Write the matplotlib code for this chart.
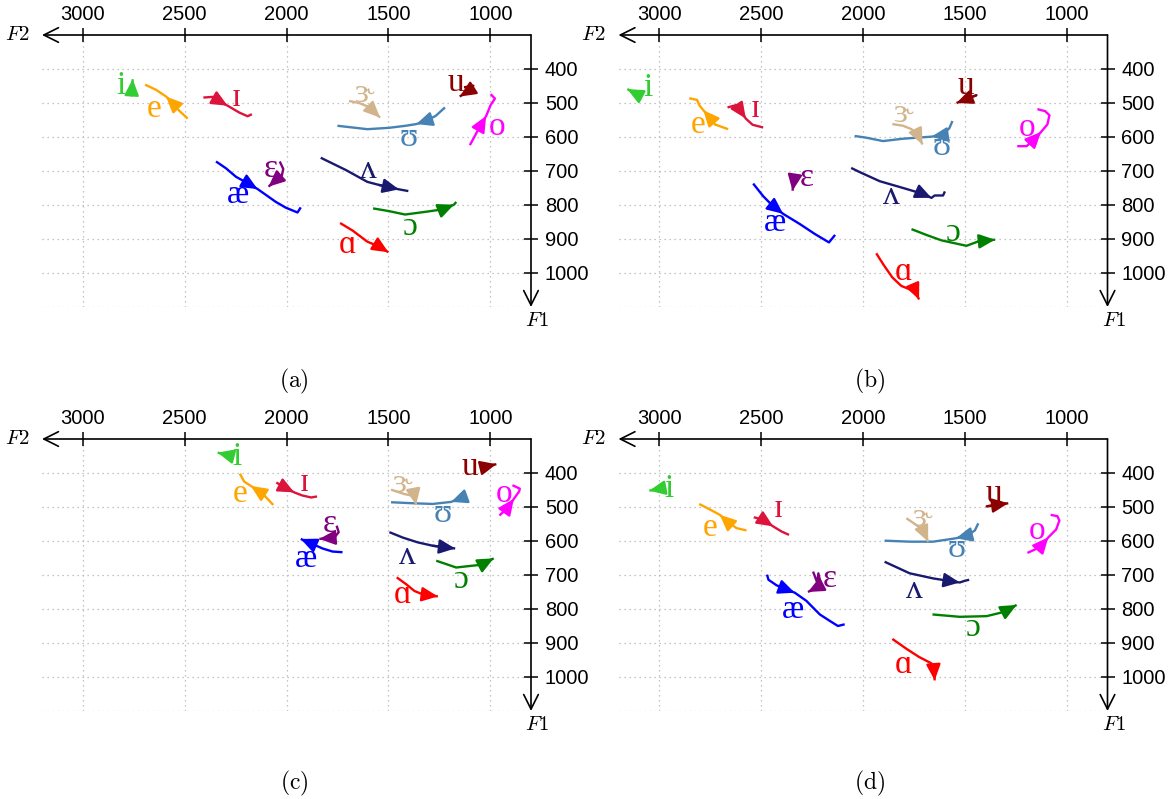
import matplotlib
matplotlib.use('Agg')
import matplotlib.pyplot as plt

plt.rcParams['font.family'] = 'Liberation Sans'
plt.rcParams['mathtext.fontset'] = 'cm'

# vowel order and colours
vowels = ['i', 'ɪ', 'e', 'ɛ', 'æ', 'ɑ', 'ɔ', 'o', 'ʊ', 'u', 'ʌ', 'ɝ']
colors = {'i': '#32cd32', 'ɪ': '#dc143c', 'e': '#ffa500', 'ɛ': '#800080',
          'æ': '#0000ff', 'ɑ': '#ff0000', 'ɔ': '#008000', 'o': '#ff00ff',
          'ʊ': '#4682b4', 'u': '#8b0000', 'ʌ': '#191970', 'ɝ': '#d2b48c'}

# formant tracks (F2 list, F1 list) in Hz, in time order
tracks_a = {
    'i': ([2760, 2755], [478, 430]),
    'e': ([2485, 2526, 2559, 2591, 2641, 2694], [546, 523, 500, 481, 461, 446]),
    'ɪ': ([2408, 2363, 2330, 2289, 2232, 2191, 2170], [484, 482, 494, 508, 528, 539, 533]),
    'æ': ([2346, 2297, 2248, 2191, 2142, 2052, 2003, 1946, 1930], [672, 692, 717, 736, 753, 791, 808, 822, 807]),
    'ɛ': ([2033, 2016, 2023, 2052, 2088], [672, 694, 714, 727, 746]),
    'ɝ': ([1693, 1644, 1603, 1575, 1541], [494, 500, 510, 523, 543]),
    'ʊ': ([1222, 1268, 1317, 1363, 1415, 1497, 1603, 1750], [513, 538, 553, 562, 567, 573, 577, 567]),
    'u': ([1129, 1083, 1105, 1150], [454, 449, 464, 481]),
    'o': ([1100, 1064, 1039, 1020, 998, 977, 998], [624, 584, 558, 538, 506, 487, 474]),
    'ʌ': ([1832, 1709, 1603, 1546, 1448, 1402], [661, 697, 732, 741, 754, 759]),
    'ɔ': ([1575, 1497, 1418, 1317, 1235, 1178, 1167], [810, 818, 828, 820, 813, 799, 791]),
    'ɑ': ([1737, 1676, 1603, 1546, 1500], [853, 875, 908, 922, 939]),
}
tracks_b = {
    'i': ([3092, 3119, 3157], [491, 471, 459]),
    'e': ([2662, 2727, 2752, 2784, 2804, 2814, 2853], [577, 563, 543, 521, 506, 491, 486]),
    'ɪ': ([2665, 2621, 2601, 2575, 2542, 2490], [513, 506, 523, 546, 564, 572]),
    'æ': ([2539, 2490, 2449, 2392, 2310, 2237, 2167, 2137], [737, 774, 799, 826, 856, 885, 910, 888]),
    'ɛ': ([2335, 2346], [715, 758]),
    'u': ([1443, 1541], [477, 500]),
    'ɝ': ([1856, 1803, 1762, 1730, 1708], [562, 567, 577, 595, 622]),
    'ʊ': ([1561, 1577, 1615, 1664, 1803, 1902, 1984, 2041], [553, 575, 595, 599, 605, 612, 602, 597]),
    'ʌ': ([2058, 2017, 1918, 1803, 1713, 1664, 1648, 1607, 1598], [691, 703, 730, 750, 766, 779, 772, 772, 760]),
    'ɔ': ([1762, 1689, 1615, 1492, 1434, 1352], [871, 888, 904, 920, 907, 902]),
    'ɑ': ([1935, 1899, 1856, 1812, 1771, 1738, 1725], [942, 976, 1013, 1038, 1048, 1060, 1078]),
    'o': ([1243, 1197, 1164, 1126, 1095, 1085, 1106, 1144], [627, 627, 609, 585, 563, 536, 524, 518]),
}
tracks_c = {
    'i': ([2265, 2338], [351, 340]),
    'e': ([2065, 2109, 2142, 2175, 2208, 2229], [494, 466, 451, 438, 425, 402]),
    'ɪ': ([2050, 2001, 1962, 1923, 1879, 1850], [428, 445, 457, 466, 472, 469]),
    'æ': ([1725, 1774, 1823, 1872, 1930], [633, 631, 622, 609, 594]),
    'ɛ': ([1754, 1744, 1761, 1798, 1839], [555, 574, 587, 592, 594]),
    'ɝ': ([1487, 1421, 1372, 1364], [449, 462, 468, 494]),
    'ʊ': ([1118, 1151, 1192, 1282, 1380, 1487], [466, 476, 485, 491, 489, 486]),
    'u': ([1039, 970], [384, 374]),
    'o': ([955, 919, 884, 858, 855, 891], [525, 505, 476, 454, 446, 436]),
    'ʌ': ([1495, 1429, 1356, 1282, 1172], [574, 590, 604, 614, 622]),
    'ɔ': ([1265, 1167, 1093, 1044, 983], [658, 678, 673, 670, 651]),
    'ɑ': ([1459, 1413, 1372, 1331, 1257], [707, 727, 747, 757, 763]),
}
tracks_d = {
    'i': ([2977, 3049], [444, 452]),
    'e': ([2572, 2621, 2662, 2703, 2743, 2804], [569, 562, 545, 523, 510, 491]),
    'ɪ': ([2536, 2490, 2441, 2400, 2363], [530, 538, 557, 572, 582]),
    'æ': ([2471, 2464, 2425, 2379, 2335, 2278, 2212, 2163, 2123, 2090], [699, 714, 730, 742, 752, 776, 816, 835, 850, 845]),
    'ɛ': ([2245, 2225, 2219, 2206, 2270], [690, 722, 695, 730, 750]),
    'u': ([1393, 1287], [498, 489]),
    'ɝ': ([1787, 1738, 1705, 1680], [533, 553, 569, 602]),
    'ʊ': ([1434, 1451, 1489, 1544, 1656, 1771, 1894], [548, 569, 584, 592, 602, 602, 599]),
    'ʌ': ([1894, 1771, 1656, 1582, 1525, 1500, 1479], [661, 695, 710, 717, 722, 717, 714]),
    'ɔ': ([1659, 1525, 1393, 1311, 1246], [816, 823, 821, 809, 788]),
    'ɑ': ([1856, 1787, 1725, 1664, 1653, 1648], [888, 917, 941, 960, 973, 1010]),
    'o': ([1193, 1156, 1123, 1090, 1052, 1036, 1046, 1079], [635, 625, 612, 589, 566, 540, 527, 523]),
}

# index of the track point that carries the direction arrow
arrow_a = {'i': 1, 'e': 3, 'ɪ': 3, 'æ': 4, 'ɛ': 4, 'ɝ': 4, 'ʊ': 3, 'u': 3, 'o': 3, 'ʌ': 4, 'ɔ': 5, 'ɑ': 4}
arrow_b = {'i': 2, 'e': 3, 'ɪ': 3, 'æ': 3, 'ɛ': 1, 'u': 1, 'ɝ': 4, 'ʊ': 3, 'ʌ': 5, 'ɔ': 5, 'ɑ': 6, 'o': 3}
arrow_c = {'i': 1, 'e': 3, 'ɪ': 2, 'æ': 4, 'ɛ': 4, 'ɝ': 3, 'ʊ': 2, 'u': 1, 'o': 2, 'ʌ': 4, 'ɔ': 4, 'ɑ': 4}
arrow_d = {'i': 1, 'e': 3, 'ɪ': 2, 'æ': 4, 'ɛ': 4, 'u': 1, 'ɝ': 3, 'ʊ': 3, 'ʌ': 4, 'ɔ': 4, 'ɑ': 5, 'o': 3}

# where each vowel symbol is written (F2, F1)
label_a = {'i': (2812, 449), 'e': (2649, 516), 'ɪ': (2248, 484), 'æ': (2240, 771), 'ɛ': (2077, 692),
           'ɝ': (1619, 474), 'ʊ': (1402, 602), 'u': (1170, 439), 'o': (966, 569), 'ʌ': (1598, 697),
           'ɔ': (1390, 864), 'ɑ': (1701, 917)}
label_b = {'i': (3054, 454), 'e': (2809, 563), 'ɪ': (2531, 518), 'æ': (2433, 853), 'ɛ': (2278, 720),
           'u': (1495, 449), 'ɝ': (1803, 533), 'ʊ': (1615, 629), 'ʌ': (1861, 774), 'ɔ': (1557, 883),
           'ɑ': (1803, 996), 'o': (1197, 572)}
label_c = {'i': (2245, 353), 'e': (2229, 461), 'ɪ': (1913, 430), 'æ': (1905, 653), 'ɛ': (1790, 550),
           'ɝ': (1433, 432), 'ʊ': (1233, 520), 'u': (1101, 382), 'o': (933, 461), 'ʌ': (1405, 643),
           'ɔ': (1142, 714), 'ɑ': (1429, 757)}
label_d = {'i': (2951, 446), 'e': (2752, 560), 'ɪ': (2417, 505), 'æ': (2346, 801), 'ɛ': (2163, 710),
           'u': (1357, 461), 'ɝ': (1713, 533), 'ʊ': (1541, 624), 'ʌ': (1746, 744), 'ɔ': (1459, 855),
           'ɑ': (1803, 963), 'o': (1147, 569)}

f2_ticks = [3000, 2500, 2000, 1500, 1000]
f1_ticks = [400, 500, 600, 700, 800, 900, 1000]


def draw_panel(ax, tracks, arrows, labels):
    ax.set_xlim(3200, 800)
    ax.set_ylim(1100, 300)
    for s in ax.spines.values():
        s.set_visible(False)
    ax.xaxis.tick_top()
    ax.yaxis.tick_right()
    ax.set_xticks(f2_ticks)
    ax.set_yticks(f1_ticks)
    ax.tick_params(direction='inout', length=10, width=1.1, labelsize=14.5, pad=3)
    ax.tick_params(axis='y', pad=5)
    ax.grid(True, linestyle=(0, (1, 3)), color='0.7', linewidth=0.9)
    ax.axhline(1100, linestyle=(0, (1, 3)), color='0.7', linewidth=0.9)

    # F2 axis runs leftwards, F1 axis runs downwards
    axis_arrow = dict(arrowstyle='->,head_length=0.7,head_width=0.35', lw=1.2,
                      color='black', shrinkA=0, shrinkB=0, mutation_scale=15)
    ax.annotate('', xy=(3200, 300), xytext=(800, 300), arrowprops=axis_arrow,
                annotation_clip=False)
    ax.annotate('', xy=(800, 1100), xytext=(800, 300), arrowprops=axis_arrow,
                annotation_clip=False)
    ax.text(3262, 300, '$F2$', fontsize=15, ha='right', va='center')
    ax.text(770, 1112, '$F1$', fontsize=15, ha='center', va='top')

    for v in vowels:
        f2, f1 = tracks[v]
        c = colors[v]
        ax.plot(f2, f1, color=c, lw=1.7, solid_capstyle='butt')
        k = arrows[v]
        ax.annotate('', xy=(f2[k], f1[k]), xytext=(f2[k - 1], f1[k - 1]),
                    arrowprops=dict(arrowstyle='-|>,head_length=0.6,head_width=0.27',
                                    color=c, lw=1.7, shrinkA=0, shrinkB=0,
                                    mutation_scale=16))
        lx, ly = labels[v]
        ax.text(lx, ly, v, color=c, fontsize=24, ha='center', va='center',
                fontfamily=['Liberation Serif', 'DejaVu Serif'])


W, H = 1169, 799
fig = plt.figure(figsize=(W / 100, H / 100), dpi=100)

panels = [(42, 35, tracks_a, arrow_a, label_a),
          (618.5, 35, tracks_b, arrow_b, label_b),
          (42, 439, tracks_c, arrow_c, label_c),
          (618.5, 439, tracks_d, arrow_d, label_d)]
for left, top, tr, ar, lb in panels:
    ax = fig.add_axes([left / W, 1 - (top + 272) / H, 489 / W, 272 / H])
    draw_panel(ax, tr, ar, lb)

for name, x, y in [('a', 294, 381), ('b', 870, 381), ('c', 294, 783), ('d', 870, 783)]:
    fig.text(x / W, 1 - y / H, r'$\mathrm{(%s)}$' % name, fontsize=17,
             ha='center', va='center')

fig.savefig('out.png', dpi=100)
